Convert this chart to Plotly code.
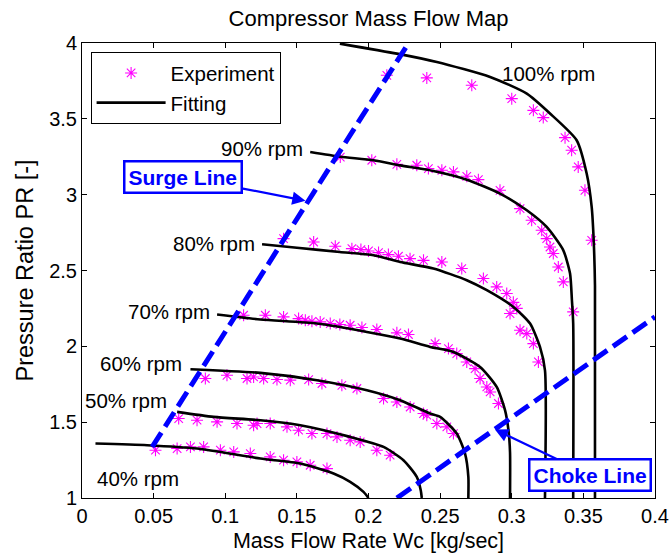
import plotly.graph_objects as go

# ---------------- data ----------------
speeds = ["100%", "90%", "80%", "70%", "60%", "50%", "40%"]

fit_100_x = [0.180, 0.2198, 0.2477, 0.2849, 0.3105, 0.3267, 0.3453, 0.3523, 0.3558, 0.3572, 0.3581, 0.3581]
fit_100_y = [3.996, 3.930, 3.875, 3.776, 3.666, 3.535, 3.359, 3.139, 2.919, 2.699, 2.40, 1.0]
fit_90_x = [0.1593, 0.1803, 0.2035, 0.2221, 0.2453, 0.2686, 0.2918, 0.3105, 0.3244, 0.3360, 0.3407, 0.3420, 0.3429, 0.3429]
fit_90_y = [3.281, 3.250, 3.227, 3.193, 3.156, 3.099, 3.007, 2.897, 2.787, 2.633, 2.480, 2.304, 2.15, 1.0]
fit_80_x = [0.1257, 0.1500, 0.1800, 0.2035, 0.2221, 0.2453, 0.2686, 0.2826, 0.3011, 0.3128, 0.3197, 0.3232, 0.3232]
fit_80_y = [2.673, 2.650, 2.622, 2.600, 2.556, 2.513, 2.436, 2.370, 2.260, 2.150, 1.996, 1.842, 1.0]
fit_70_x = [0.0943, 0.1245, 0.1640, 0.1989, 0.2221, 0.2430, 0.2593, 0.2779, 0.2895, 0.2953, 0.2977, 0.2988, 0.2988]
fit_70_y = [2.210, 2.177, 2.150, 2.095, 2.051, 1.996, 1.963, 1.864, 1.732, 1.579, 1.447, 1.30, 1.0]
fit_60_x = [0.0757, 0.1245, 0.1640, 0.1989, 0.2221, 0.2430, 0.2500, 0.2616, 0.2674, 0.2697, 0.2697]
fit_60_y = [1.849, 1.825, 1.777, 1.711, 1.645, 1.557, 1.535, 1.425, 1.293, 1.139, 1.0]
fit_50_x = [0.0664, 0.0919, 0.1245, 0.1524, 0.1872, 0.2105, 0.2244, 0.2337, 0.2365, 0.2372]
fit_50_y = [1.568, 1.535, 1.513, 1.480, 1.403, 1.337, 1.249, 1.139, 1.05, 1.0]
fit_40_x = [0.0094, 0.0455, 0.0803, 0.1245, 0.1524, 0.1756, 0.1872, 0.1965, 0.2000]
fit_40_y = [1.359, 1.348, 1.326, 1.260, 1.227, 1.161, 1.106, 1.040, 1.0]

exp_100_x = [0.2128, 0.2407, 0.2721, 0.3000, 0.3151, 0.3220, 0.3372, 0.3418, 0.3464, 0.3511, 0.3558]
exp_100_y = [3.787, 3.770, 3.721, 3.633, 3.556, 3.508, 3.376, 3.293, 3.183, 3.029, 2.699]
exp_90_x = [0.1803, 0.2023, 0.2198, 0.2337, 0.2418, 0.2512, 0.2593, 0.2686, 0.2767, 0.2918, 0.3058,
            0.3139, 0.3209, 0.3244, 0.3267, 0.3290, 0.3325, 0.3360, 0.3429]
exp_90_y = [3.248, 3.227, 3.200, 3.194, 3.172, 3.161, 3.150, 3.121, 3.099, 3.029, 2.908,
            2.831, 2.765, 2.710, 2.655, 2.612, 2.523, 2.425, 2.227]
exp_80_x = [0.1407, 0.1617, 0.1768, 0.1884, 0.1947, 0.2000, 0.2070, 0.2139, 0.2209, 0.2290, 0.2384,
            0.2512, 0.2651, 0.2802, 0.2895, 0.2965, 0.2988, 0.3011, 0.3035, 0.3058, 0.3105, 0.3151, 0.3186]
exp_80_y = [2.710, 2.688, 2.660, 2.644, 2.638, 2.629, 2.618, 2.605, 2.594, 2.578, 2.567,
            2.556, 2.513, 2.447, 2.392, 2.348, 2.216, 2.290, 2.250, 2.106, 2.084, 2.018, 1.897]
exp_70_x = [0.1128, 0.1280, 0.1407, 0.1512, 0.1559, 0.1605, 0.1663, 0.1733, 0.1800, 0.1872, 0.1954,
            0.2058, 0.2198, 0.2279, 0.2465, 0.2558, 0.2616, 0.2686, 0.2744, 0.2779, 0.2826, 0.2849, 0.2907]
exp_70_y = [2.205, 2.205, 2.194, 2.183, 2.172, 2.165, 2.161, 2.150, 2.144, 2.139, 2.124,
            2.111, 2.089, 2.078, 2.018, 1.985, 1.952, 1.897, 1.853, 1.788, 1.732, 1.699, 1.623]
exp_60_x = [0.0861, 0.1012, 0.1152, 0.1198, 0.1268, 0.1361, 0.1454, 0.1582, 0.1675, 0.1814, 0.1919,
            0.2105, 0.2198, 0.2291, 0.2384, 0.2407, 0.2477, 0.2547, 0.2593]
exp_60_y = [1.788, 1.809, 1.788, 1.798, 1.788, 1.781, 1.777, 1.781, 1.755, 1.743, 1.722,
            1.656, 1.633, 1.600, 1.557, 1.546, 1.491, 1.469, 1.425]
exp_50_x = [0.0675, 0.0803, 0.0943, 0.1082, 0.1198, 0.1222, 0.1314, 0.1431, 0.1512, 0.1605, 0.1710,
            0.1780, 0.1872, 0.1942, 0.2058, 0.2151]
exp_50_y = [1.524, 1.513, 1.502, 1.491, 1.480, 1.491, 1.491, 1.469, 1.447, 1.425, 1.425,
            1.403, 1.381, 1.370, 1.315, 1.282]
exp_40_x = [0.0513, 0.0664, 0.0757, 0.0849, 0.0966, 0.1059, 0.1175, 0.1314, 0.1407, 0.1500, 0.1593, 0.1710]
exp_40_y = [1.315, 1.326, 1.337, 1.337, 1.315, 1.304, 1.293, 1.271, 1.249, 1.238, 1.216, 1.194]

surge_x = [0.049, 0.228]
surge_y = [1.337, 4.0]
choke_x = [0.2198, 0.400]
choke_y = [1.000, 2.194]

label_text = ["100% rpm", "90% rpm", "80% rpm", "70% rpm", "60% rpm", "50% rpm", "40% rpm"]
label_x = [0.2918, 0.1559, 0.1222, 0.0908, 0.0710, 0.0605, 0.0394]
label_y = [3.798, 3.304, 2.678, 2.231, 1.887, 1.645, 1.128]
label_anchor = ["left", "right", "right", "right", "right", "right", "center"]

x_ticks = [0, 0.05, 0.1, 0.15, 0.2, 0.25, 0.3, 0.35, 0.4]
y_ticks = [1, 1.5, 2, 2.5, 3, 3.5, 4]

# ---------------- figure ----------------
FONT = "Arial, 'Liberation Sans', sans-serif"
MAG = "#FF00FF"
BLUE = "#0000FF"

fig = go.Figure()

exp_sets = [(exp_100_x, exp_100_y), (exp_90_x, exp_90_y), (exp_80_x, exp_80_y), (exp_70_x, exp_70_y),
            (exp_60_x, exp_60_y), (exp_50_x, exp_50_y), (exp_40_x, exp_40_y)]
fit_sets = [(fit_100_x, fit_100_y), (fit_90_x, fit_90_y), (fit_80_x, fit_80_y), (fit_70_x, fit_70_y),
            (fit_60_x, fit_60_y), (fit_50_x, fit_50_y), (fit_40_x, fit_40_y)]

for i, (xs, ys) in enumerate(exp_sets):
    fig.add_trace(go.Scatter(
        x=xs, y=ys, mode="markers", name="Experiment",
        legendgroup="exp", showlegend=(i == 0),
        marker=dict(symbol="asterisk-open", size=10, color=MAG, line=dict(color=MAG, width=1.1)),
    ))

for i, (xs, ys) in enumerate(fit_sets):
    fig.add_trace(go.Scatter(
        x=xs, y=ys, mode="lines", name="Fitting",
        legendgroup="fit", showlegend=(i == 0),
        line=dict(color="black", width=2.6, shape="spline", smoothing=0.6),
    ))

fig.add_trace(go.Scatter(x=surge_x, y=surge_y, mode="lines", showlegend=False,
                         line=dict(color=BLUE, width=5, dash="17px,7px")))
fig.add_trace(go.Scatter(x=choke_x, y=choke_y, mode="lines", showlegend=False,
                         line=dict(color=BLUE, width=5, dash="17px,7px")))

for t, x, y, a in zip(label_text, label_x, label_y, label_anchor):
    fig.add_annotation(x=x, y=y, text=t, showarrow=False, xanchor=a, yanchor="middle",
                       font=dict(family=FONT, size=20.5, color="black"))

fig.add_annotation(x=0.156, y=2.96, ax=0.0704, ay=3.117, axref="x", ayref="y",
                   text="<b>Surge Line</b>", showarrow=True, arrowhead=2, arrowsize=1.2,
                   arrowwidth=2.2, arrowcolor=BLUE,
                   font=dict(family=FONT, size=21, color=BLUE),
                   bordercolor=BLUE, borderwidth=2.5, borderpad=3, bgcolor="white")
fig.add_annotation(x=0.2883, y=1.451, ax=0.3544, ay=1.153, axref="x", ayref="y",
                   text="<b>Choke Line</b>", showarrow=True, arrowhead=2, arrowsize=1.2,
                   arrowwidth=2.2, arrowcolor=BLUE,
                   font=dict(family=FONT, size=21, color=BLUE),
                   bordercolor=BLUE, borderwidth=2.5, borderpad=3, bgcolor="white")

axis_common = dict(showgrid=False, zeroline=False, showline=True, linecolor="black", linewidth=1,
                   mirror="ticks", ticks="inside", ticklen=5, tickcolor="black",
                   tickfont=dict(family=FONT, size=20, color="black"), automargin=False)

fig.update_xaxes(range=[0, 0.4], tickvals=x_ticks, ticktext=[f"{v:g}" for v in x_ticks],
                 title=dict(text="Mass Flow Rate Wc [kg/sec]", font=dict(family=FONT, size=21.5, color="black"),
                            standoff=6),
                 **axis_common)
fig.update_yaxes(range=[1, 4], tickvals=y_ticks, ticktext=[f"{v:g}" for v in y_ticks],
                 title=dict(text="Pressure Ratio PR [-]", font=dict(family=FONT, size=23.5, color="black"),
                            standoff=8),
                 **axis_common)

fig.update_layout(
    width=669, height=557,
    margin=dict(l=82, r=14, t=43, b=59, autoexpand=False),
    paper_bgcolor="white", plot_bgcolor="white",
    title=dict(text="Compressor Mass Flow Map", x=0.5, xref="paper", y=1 - 18 / 557,
               yref="container", xanchor="center", yanchor="middle",
               font=dict(family=FONT, size=22, color="black")),
    legend=dict(x=0.015, y=0.98, xanchor="left", yanchor="top",
                bordercolor="black", borderwidth=1, bgcolor="white",
                font=dict(family=FONT, size=20.5, color="black"),
                itemwidth=69, tracegroupgap=0),
    showlegend=True,
)

fig.write_html("out.html")
